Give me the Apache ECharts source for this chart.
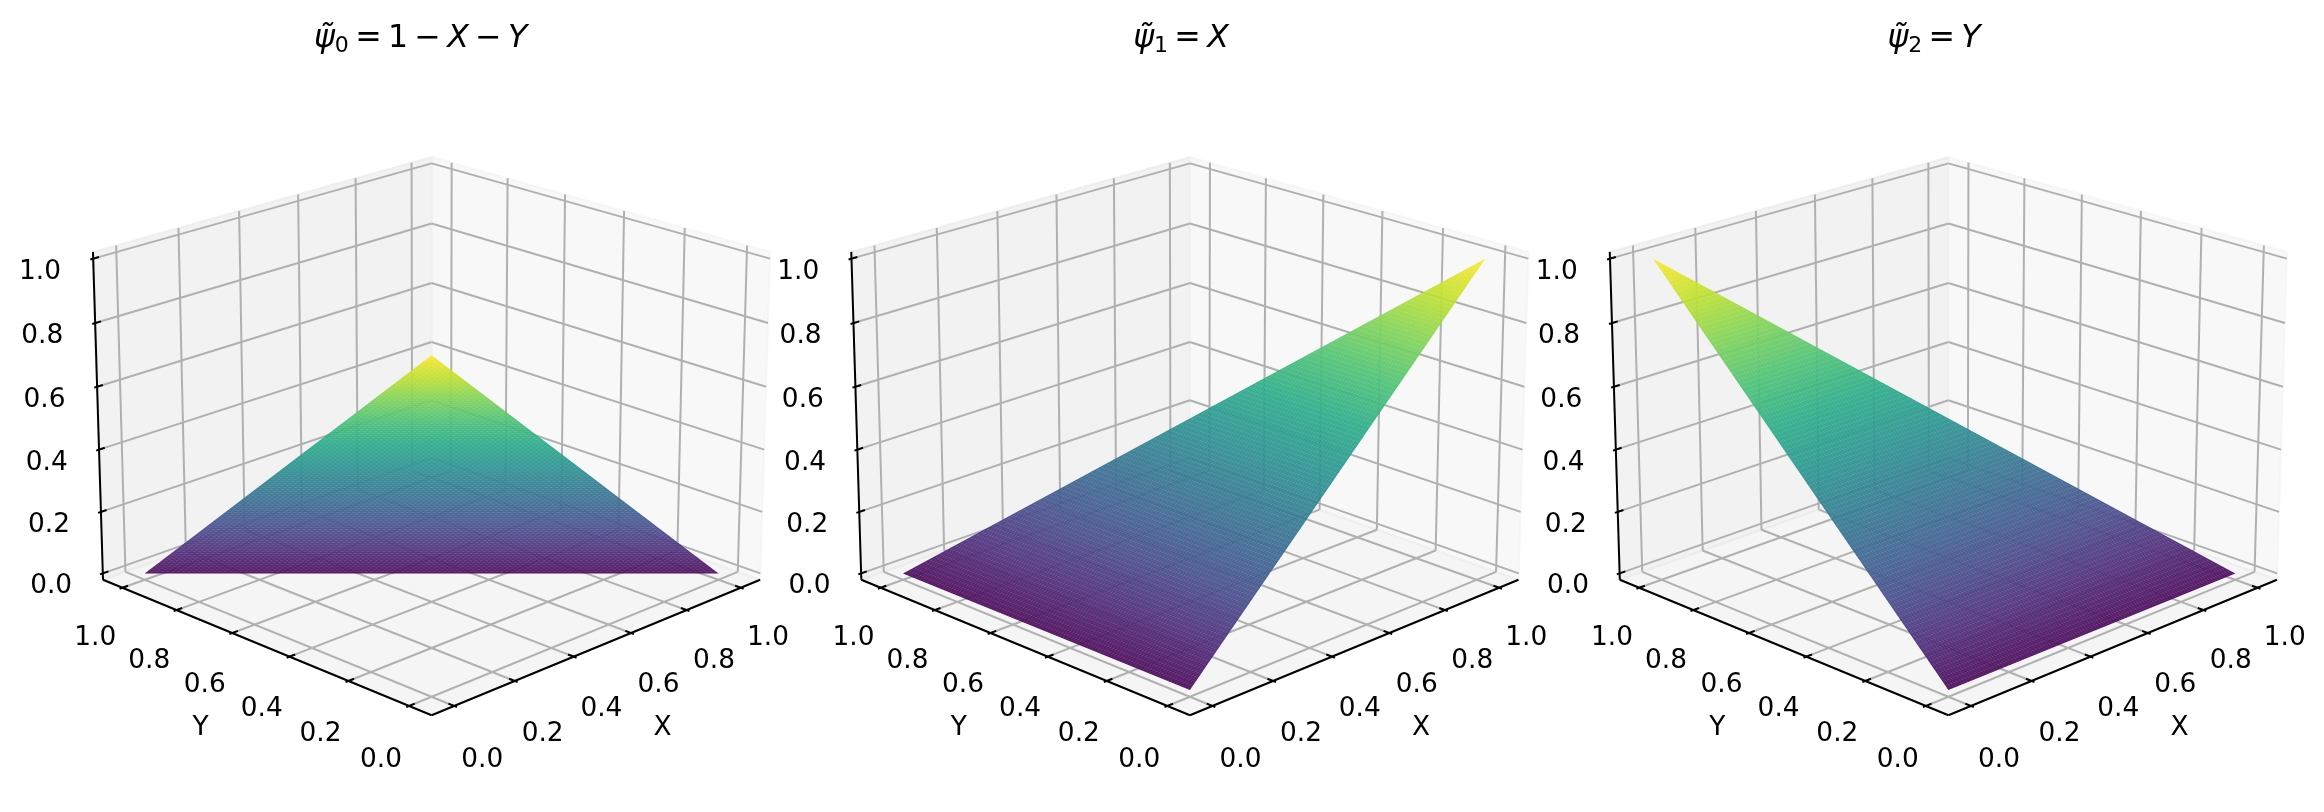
<!DOCTYPE html>
<html>
<head>
<meta charset="utf-8">
<style>html,body{margin:0;padding:0;background:#fff}#c{width:2324px;height:812px}</style>
<script src="https://cdn.jsdelivr.net/npm/echarts@6/dist/echarts.min.js"></script>
</head>
<body>
<div id="c"></div>
<script>
// ---- chart data ----
const tickValues = [0, 0.2, 0.4, 0.6, 0.8, 1.0];
const tickLabels = ['0.0', '0.2', '0.4', '0.6', '0.8', '1.0'];
const axisNames = ['X', 'Y'];
// triangle element: node coordinates and the nodal value of each shape function
const nodeX = [0, 1, 0];
const nodeY = [0, 0, 1];
const psi0Nodes = [1, 0, 0];
const psi1Nodes = [0, 1, 0];
const psi2Nodes = [0, 0, 1];
const panelNodes = [psi0Nodes, psi1Nodes, psi2Nodes];
const panelTitles = [
  '{i|ψ̃}{s|0}{n|\u2009=\u20091\u2009−\u2009}{i|X}{n|\u2009−\u2009}{i|Y}',
  '{i|ψ̃}{s|1}{n|\u2009=\u2009}{i|X}',
  '{i|ψ̃}{s|2}{n|\u2009=\u2009}{i|Y}'
];
const viridis = ['#440154','#482475','#414487','#355f8d','#2a788e','#21918c','#22a884','#44bf70','#7ad151','#bddf26','#fde725'];

// ---- view (matplotlib-like mplot3d camera) ----
const ELEV = 20 * Math.PI / 180, AZIM = -135 * Math.PI / 180, DIST = 10;
const LIM = [-0.05, 1.05];     // x and y view limits
const ZLIM = [0, 1];           // z view limits
const PAD = (LIM[1] - LIM[0]) / 48, ZPAD = (ZLIM[1] - ZLIM[0]) / 48;
const LO = LIM[0] - PAD, HI = LIM[1] + PAD;
const ZLO = ZLIM[0] - ZPAD, ZHI = ZLIM[1] + ZPAD;
const DELTA = (LIM[1] - LIM[0]) / 12;
const TICK_OUT = 0.1 * DELTA, TICK_IN = 0.2 * DELTA;
const TICK_SHIFT = 0.09, TICK_SHIFT_Z = 0.09, NAME_SHIFT = 0.195, NAME_SHIFT_Z = 0.19;
const ASPECT = 1.8294640721620434 / Math.hypot(4, 4, 3);
const BOX = [4 * ASPECT, 4 * ASPECT, 3 * ASPECT * 0.986];
const W = [Math.cos(ELEV) * Math.cos(AZIM), Math.cos(ELEV) * Math.sin(AZIM), Math.sin(ELEV)];
const U = [Math.SQRT1_2, -Math.SQRT1_2, 0];
const V = [W[1] * U[2] - W[2] * U[1], W[2] * U[0] - W[0] * U[2], W[0] * U[1] - W[1] * U[0]];
function project(x, y, z) {
  const s = LIM[1] - LIM[0];
  const p = [(x - LIM[0]) / s * BOX[0] - BOX[0] / 2, (y - LIM[0]) / s * BOX[1] - BOX[1] / 2, (z - ZLIM[0]) / (ZLIM[1] - ZLIM[0]) * BOX[2] - BOX[2] / 2];
  const d = DIST - (p[0] * W[0] + p[1] * W[1] + p[2] * W[2]);
  return [(p[0] * U[0] + p[1] * U[1] + p[2] * U[2]) / d, (p[0] * V[0] + p[1] * V[1] + p[2] * V[2]) / d];
}
const VIEW_X = [-0.095, 0.09], VIEW_Y = [-0.095, 0.09];

// ---- layout ----
const GRID_SIZE = 733, GRID_TOP = 61.7, GRID_LEFT = [55.2, 813.5, 1572];
const TITLE_X = [415.6, 1176, 1929];
const MESH = 110;
const FONT = 'DejaVu Sans';
const LINE = 2;
const TICK_FONT = 26.4, TITLE_FONT = 31.6, TICK_TOP = 13;
const SURFACE_OPACITY = 0.92, MESH_STROKE = 'rgba(255,255,255,0.1)', MESH_WIDTH = 0.7;

const c = echarts.init(document.getElementById('c'), null, { renderer: 'canvas' });

// frame geometry built from the limits and ticks
const panes = [
  { pts: [[LO, HI, ZLO], [HI, HI, ZLO], [HI, HI, ZHI], [LO, HI, ZHI]], fill: 'rgba(230,230,230,0.5)' },
  { pts: [[HI, LO, ZLO], [HI, HI, ZLO], [HI, HI, ZHI], [HI, LO, ZHI]], fill: 'rgba(242,242,242,0.5)' },
  { pts: [[LO, LO, ZLO], [HI, LO, ZLO], [HI, HI, ZLO], [LO, HI, ZLO]], fill: 'rgba(236,236,236,0.5)' }
];
const gridSegs = [], axisSegs = [], labelItems = [];
tickValues.forEach((t, i) => {
  gridSegs.push([t, LO, ZLO, t, HI, ZLO], [t, HI, ZLO, t, HI, ZHI]);
  gridSegs.push([LO, t, ZLO, HI, t, ZLO], [HI, t, ZLO, HI, t, ZHI]);
  gridSegs.push([LO, HI, t, HI, HI, t], [HI, LO, t, HI, HI, t]);
  axisSegs.push([t, LO - TICK_OUT, ZLO, t, LO + TICK_IN, ZLO]);
  axisSegs.push([LO - TICK_OUT, t, ZLO, LO + TICK_IN, t, ZLO]);
  axisSegs.push([LO - TICK_OUT, HI, t, LO + TICK_IN, HI, t]);
  labelItems.push([t, LO - TICK_SHIFT, ZLO - TICK_SHIFT_Z, i, 1]);
  labelItems.push([LO - TICK_SHIFT, t, ZLO - TICK_SHIFT_Z, i, 1]);
  labelItems.push([LO - TICK_SHIFT, HI + TICK_SHIFT, t, i, 1]);
});
axisSegs.push([LO, LO, ZLO, HI, LO, ZLO], [LO, LO, ZLO, LO, HI, ZLO], [LO, HI, ZLO, LO, HI, ZHI]);
const nameItems = [
  [0.5, LO - NAME_SHIFT, ZLO - NAME_SHIFT_Z, 0, 0],
  [LO - NAME_SHIFT, 0.5, ZLO - NAME_SHIFT_Z, 1, 0]
];

function toPx(api, x, y, z) { return api.coord(project(x, y, z)); }

function segSeries(idx, segs, color, width) {
  return {
    type: 'custom', xAxisIndex: idx, yAxisIndex: idx, silent: true, animation: false, clip: false,
    progressive: 0, data: segs,
    renderItem(p, api) {
      const a = toPx(api, api.value(0), api.value(1), api.value(2));
      const b = toPx(api, api.value(3), api.value(4), api.value(5));
      return { type: 'line', shape: { x1: a[0], y1: a[1], x2: b[0], y2: b[1] }, style: { stroke: color, lineWidth: width, fill: null } };
    }
  };
}

function paneSeries(idx) {
  return {
    type: 'custom', xAxisIndex: idx, yAxisIndex: idx, silent: true, animation: false, clip: false,
    progressive: 0, data: panes.map((_, i) => [i]),
    renderItem(p, api) {
      const pane = panes[api.value(0)];
      return { type: 'polygon', shape: { points: pane.pts.map(q => toPx(api, q[0], q[1], q[2])) }, style: { fill: pane.fill, stroke: pane.fill, lineWidth: LINE } };
    }
  };
}

function textSeries(idx, items, texts) {
  return {
    type: 'custom', xAxisIndex: idx, yAxisIndex: idx, silent: true, animation: false, clip: false,
    progressive: 0, data: items,
    renderItem(p, api) {
      const a = toPx(api, api.value(0), api.value(1), api.value(2));
      const top = api.value(4) ? TICK_TOP : 0;
      return { type: 'text', style: { x: a[0], y: a[1] + top, text: texts[api.value(3)], fill: '#000', fontSize: TICK_FONT, fontFamily: FONT, align: 'center', verticalAlign: 'middle' } };
    }
  };
}

// one element per panel: the triangle, shaded along the direction in which its value rises
function surfaceSeries(idx) {
  const nodes = panelNodes[idx];
  return {
    type: 'custom', name: 'surface ' + idx, xAxisIndex: idx, yAxisIndex: idx, silent: true, animation: false, clip: false,
    progressive: 0, data: nodes.map((z, k) => [nodeX[k], nodeY[k], z]),
    renderItem(p, api) {
      if (p.dataIndex !== 0) return null;
      const pts = nodes.map((z, k) => toPx(api, nodeX[k], nodeY[k], z));
      const top = nodes.indexOf(1), a = pts[(top + 1) % 3], b = pts[(top + 2) % 3], t = pts[top];
      const ex = b[0] - a[0], ey = b[1] - a[1];
      const u = ((t[0] - a[0]) * ex + (t[1] - a[1]) * ey) / (ex * ex + ey * ey);
      const fx = a[0] + u * ex, fy = a[1] + u * ey;
      return {
        type: 'polygon', shape: { points: pts },
        style: {
          opacity: SURFACE_OPACITY,
          fill: {
            type: 'linear', global: true, x: fx, y: fy, x2: t[0], y2: t[1],
            colorStops: viridis.map((color, i) => ({ offset: i / (viridis.length - 1), color }))
          }
        }
      };
    }
  };
}

// fine element edges over the triangle
function meshSegments(idx) {
  const nodes = panelNodes[idx];
  const at = (b, d) => {
    const a = 1 - b - d;
    return [a * nodeX[0] + b * nodeX[1] + d * nodeX[2], a * nodeY[0] + b * nodeY[1] + d * nodeY[2], a * nodes[0] + b * nodes[1] + d * nodes[2]];
  };
  const segs = [];
  for (let k = 1; k < MESH; k++) {
    const f = k / MESH;
    segs.push([...at(f, 0), ...at(f, 1 - f)]);
    segs.push([...at(0, f), ...at(1 - f, f)]);
    segs.push([...at(1 - f, 0), ...at(0, 1 - f)]);
  }
  return segs;
}

const rich = {
  i: { fontFamily: FONT, fontStyle: 'italic', fontSize: TITLE_FONT, color: '#000' },
  n: { fontFamily: FONT, fontSize: TITLE_FONT, color: '#000' },
  s: { fontFamily: FONT, fontSize: 22, color: '#000', verticalAlign: 'bottom', padding: [14, 0, 0, 0] }
};

const option = {
  backgroundColor: '#fff',
  animation: false,
  title: panelTitles.map((t, i) => ({
    text: t, left: TITLE_X[i], top: 16, textAlign: 'center',
    textStyle: { rich, fontFamily: FONT, fontSize: TITLE_FONT, fontWeight: 'normal', color: '#000' }
  })),
  grid: GRID_LEFT.map(l => ({ left: l, top: GRID_TOP, width: GRID_SIZE, height: GRID_SIZE, show: false, containLabel: false })),
  xAxis: GRID_LEFT.map((_, i) => ({ type: 'value', gridIndex: i, min: VIEW_X[0], max: VIEW_X[1], show: false })),
  yAxis: GRID_LEFT.map((_, i) => ({ type: 'value', gridIndex: i, min: VIEW_Y[0], max: VIEW_Y[1], show: false })),
  series: GRID_LEFT.flatMap((_, i) => [
    paneSeries(i),
    segSeries(i, gridSegs, '#b0b0b0', LINE),
    segSeries(i, axisSegs, '#000', LINE),
    textSeries(i, labelItems, tickLabels),
    textSeries(i, nameItems, axisNames),
    surfaceSeries(i),
    segSeries(i, meshSegments(i), MESH_STROKE, MESH_WIDTH)
  ])
};
c.setOption(option);
</script>
</body>
</html>
